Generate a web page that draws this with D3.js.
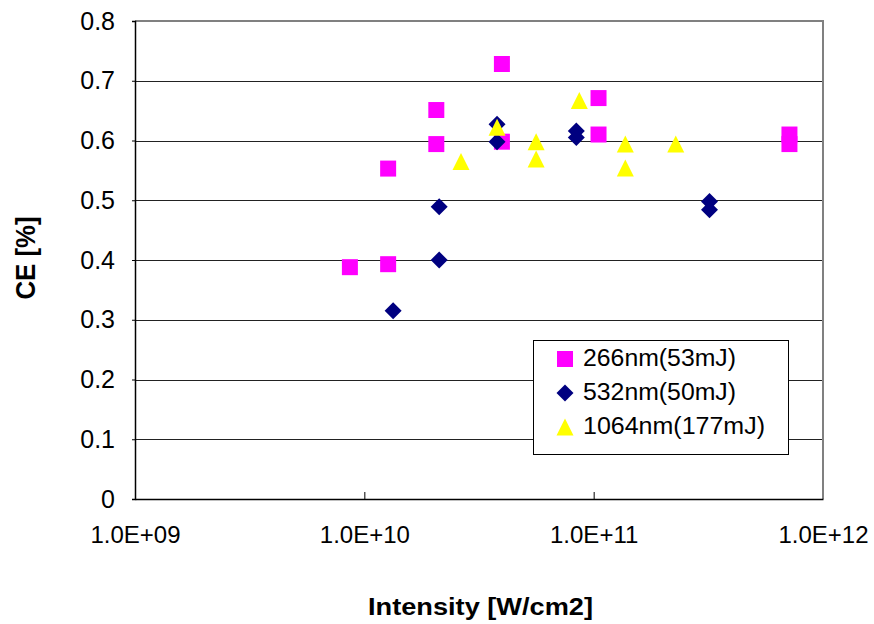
<!DOCTYPE html>
<html>
<head>
<meta charset="utf-8">
<script src="https://cdn.jsdelivr.net/npm/d3@7/dist/d3.min.js"></script>
<style>
  html, body { margin: 0; padding: 0; background: #fff; }
  svg { display: block; font-family: "Liberation Sans", Arial, sans-serif; }
</style>
</head>
<body>
<svg id="chart" width="874" height="624"></svg>
<script>
// Conversion efficiency vs. laser intensity, three wavelengths
const intensity266 = [8.65e9, 1.27e10, 1.27e10, 2.06e10, 2.06e10, 3.98e10, 3.98e10, 1.05e11, 1.05e11, 7.14e11, 7.14e11];
const ce266        = [0.388, 0.393, 0.553, 0.594, 0.651, 0.598, 0.728, 0.610, 0.671, 0.594, 0.610];

const intensity532 = [1.335e10, 2.12e10, 2.12e10, 3.79e10, 3.79e10, 8.4e10, 8.4e10, 3.2e11, 3.2e11];
const ce532        = [0.315, 0.400, 0.489, 0.598, 0.627, 0.605, 0.616, 0.484, 0.498];

const intensity1064 = [2.64e10, 3.79e10, 5.61e10, 5.61e10, 8.66e10, 1.374e11, 1.374e11, 2.28e11];
const ce1064        = [0.565, 0.622, 0.569, 0.598, 0.667, 0.554, 0.594, 0.594];

const seriesNames = ["266nm(53mJ)", "532nm(50mJ)", "1064nm(177mJ)"];
const xTickValues = [1e9, 1e10, 1e11, 1e12];
const xTickLabels = ["1.0E+09", "1.0E+10", "1.0E+11", "1.0E+12"];
const yTickValues = [0, 0.1, 0.2, 0.3, 0.4, 0.5, 0.6, 0.7, 0.8];

const svg = d3.select("#chart");
const plotLeft = 135, plotRight = 823, plotTop = 21, plotBottom = 499;

const x = d3.scaleLog().domain([1e9, 1e12]).range([plotLeft, plotRight]);
const y = d3.scaleLinear().domain([0, 0.8]).range([plotBottom, plotTop]);

// horizontal gridlines
svg.append("g").selectAll("line")
  .data(yTickValues.filter(v => v > 0 && v < 0.8))
  .join("line")
  .attr("x1", plotLeft).attr("x2", plotRight)
  .attr("y1", d => Math.round(y(d)) + 0.5).attr("y2", d => Math.round(y(d)) + 0.5)
  .attr("stroke", "#222").attr("stroke-width", 1);

// top and right frame (gray)
svg.append("path")
  .attr("d", `M${plotLeft},${plotTop} H${plotRight} V${plotBottom}`)
  .attr("fill", "none").attr("stroke", "#808080").attr("stroke-width", 2);

// y axis
const yAxis = d3.axisLeft(y).tickValues(yTickValues)
  .tickFormat(d => d === 0 ? "0" : d3.format(".1f")(d))
  .tickSize(3).tickPadding(17);
const gy = svg.append("g").attr("transform", `translate(${plotLeft},0)`).call(yAxis);
gy.select(".domain").attr("stroke", "#000").attr("stroke-width", 1.5);
gy.selectAll(".tick line").attr("stroke", "#000");
gy.selectAll(".tick text").attr("font-size", 25).attr("fill", "#000")
  .attr("font-family", "Liberation Sans, Arial, sans-serif");

// x axis (log, ticks pointing inward)
const xAxis = d3.axisBottom(x).tickValues(xTickValues)
  .tickFormat((d, i) => xTickLabels[i])
  .tickSizeInner(-7).tickSizeOuter(0).tickPadding(27);
const gx = svg.append("g").attr("transform", `translate(0,${plotBottom})`).call(xAxis);
gx.select(".domain").attr("stroke", "#000").attr("stroke-width", 1.5);
gx.selectAll(".tick line").attr("stroke", "#000")
  .attr("display", d => (d === 1e9 || d === 1e12) ? "none" : null);
gx.selectAll(".tick text").attr("font-size", 24).attr("fill", "#000")
  .attr("font-family", "Liberation Sans, Arial, sans-serif");

// marker shapes
const square = d3.symbol().type(d3.symbolSquare).size(16 * 16);
function diamondPath(s) {
  const h = s / 2;
  return `M0,${-h} L${h},0 L0,${h} L${-h},0 Z`;
}
function trianglePath(w, h) {
  return `M0,${-h / 2} L${w / 2},${h / 2} L${-w / 2},${h / 2} Z`;
}

const pts266 = intensity266.map((v, i) => [v, ce266[i]]);
const pts532 = intensity532.map((v, i) => [v, ce532[i]]);
const pts1064 = intensity1064.map((v, i) => [v, ce1064[i]]);

svg.append("g").selectAll("path").data(pts266).join("path")
  .attr("d", square())
  .attr("transform", d => `translate(${x(d[0])},${y(d[1])})`)
  .attr("fill", "#FF00FF");

svg.append("g").selectAll("path").data(pts532).join("path")
  .attr("d", diamondPath(17))
  .attr("transform", d => `translate(${x(d[0])},${y(d[1])})`)
  .attr("fill", "#000080");

svg.append("g").selectAll("path").data(pts1064).join("path")
  .attr("d", trianglePath(17, 17))
  .attr("transform", d => `translate(${x(d[0])},${y(d[1])})`)
  .attr("fill", "#FFFF00");

// legend
const legend = svg.append("g");
legend.append("rect")
  .attr("x", 533.5).attr("y", 340.5).attr("width", 255).attr("height", 114)
  .attr("fill", "#fff").attr("stroke", "#000").attr("stroke-width", 1);

const legendRows = [366, 400, 434];
const legendWidths = [153, 153, 182];
const legendMarks = [
  d3.symbol().type(d3.symbolSquare).size(16 * 16)(),
  diamondPath(17),
  trianglePath(17, 17)
];
const legendColors = ["#FF00FF", "#000080", "#FFFF00"];
seriesNames.forEach((name, i) => {
  legend.append("path")
    .attr("d", legendMarks[i])
    .attr("transform", `translate(565,${legendRows[i] - 7})`)
    .attr("fill", legendColors[i]);
  legend.append("text")
    .attr("x", 583).attr("y", legendRows[i])
    .attr("font-size", 23).attr("fill", "#000")
    .attr("textLength", legendWidths[i]).attr("lengthAdjust", "spacingAndGlyphs")
    .text(name);
});

// axis titles
svg.append("text")
  .attr("x", 480.5).attr("y", 615)
  .attr("text-anchor", "middle")
  .attr("font-size", 23).attr("font-weight", "bold").attr("fill", "#000")
  .attr("textLength", 225).attr("lengthAdjust", "spacingAndGlyphs")
  .text("Intensity [W/cm2]");

svg.append("text")
  .attr("transform", "translate(35,258) rotate(-90)")
  .attr("text-anchor", "middle")
  .attr("font-size", 28).attr("font-weight", "bold").attr("fill", "#000")
  .attr("textLength", 83).attr("lengthAdjust", "spacingAndGlyphs")
  .text("CE [%]");
</script>
</body>
</html>
